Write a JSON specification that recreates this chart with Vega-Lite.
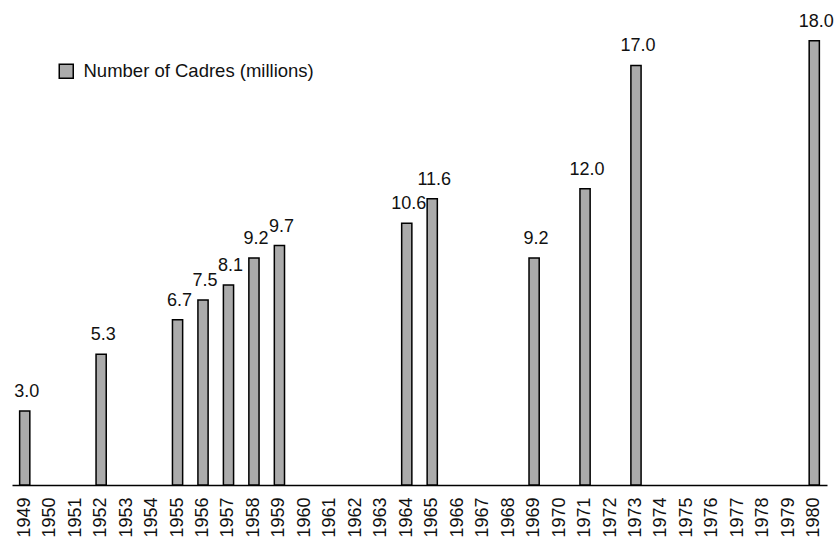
{
  "$schema": "https://vega.github.io/schema/vega-lite/v6.json",
  "autosize": {"type": "none"},
  "width": 815,
  "height": 485,
  "padding": {"left": 12, "top": 0, "right": 7, "bottom": 55},
  "background": "white",
  "config": {
    "view": {"stroke": null},
    "font": "Liberation Sans"
  },
  "data": {
    "values": [
      {"year": "1949", "value": 3.0, "series": "Number of Cadres (millions)"},
      {"year": "1952", "value": 5.3, "series": "Number of Cadres (millions)"},
      {"year": "1955", "value": 6.7, "series": "Number of Cadres (millions)"},
      {"year": "1956", "value": 7.5, "series": "Number of Cadres (millions)"},
      {"year": "1957", "value": 8.1, "series": "Number of Cadres (millions)"},
      {"year": "1958", "value": 9.2, "series": "Number of Cadres (millions)"},
      {"year": "1959", "value": 9.7, "series": "Number of Cadres (millions)"},
      {"year": "1964", "value": 10.6, "series": "Number of Cadres (millions)"},
      {"year": "1965", "value": 11.6, "series": "Number of Cadres (millions)"},
      {"year": "1969", "value": 9.2, "series": "Number of Cadres (millions)"},
      {"year": "1971", "value": 12.0, "series": "Number of Cadres (millions)"},
      {"year": "1973", "value": 17.0, "series": "Number of Cadres (millions)"},
      {"year": "1980", "value": 18.0, "series": "Number of Cadres (millions)"}
    ]
  },
  "encoding": {
    "x": {
      "field": "year",
      "type": "nominal",
      "sort": null,
      "scale": {
        "domain": ["1949","1950","1951","1952","1953","1954","1955","1956","1957","1958","1959","1960","1961","1962","1963","1964","1965","1966","1967","1968","1969","1970","1971","1972","1973","1974","1975","1976","1977","1978","1979","1980"],
        "paddingInner": 0.6,
        "paddingOuter": 0.3
      },
      "axis": {
        "title": null,
        "ticks": false,
        "labelAngle": -90,
        "labelFontSize": 18,
        "labelColor": "#111",
        "labelPadding": 12,
        "domainColor": "#000",
        "domainWidth": 1.5,
        "labelFont": "Liberation Sans"
      }
    },
    "y": {
      "field": "value",
      "type": "quantitative",
      "scale": {"domain": [0, 19.65], "nice": false, "zero": true},
      "axis": null
    }
  },
  "layer": [
    {
      "mark": {"type": "bar", "stroke": "#000", "strokeWidth": 1.5},
      "encoding": {
        "fill": {
          "field": "series",
          "type": "nominal",
          "scale": {"range": ["#ababab"]},
          "legend": {
            "title": null,
            "orient": "none",
            "legendX": 45,
            "legendY": 62,
            "symbolType": "square",
            "symbolSize": 196,
            "symbolStrokeColor": "#000",
            "symbolStrokeWidth": 1.5,
            "symbolFillColor": "#ababab",
            "labelFontSize": 18.5,
            "labelLimit": 400,
            "labelColor": "#111",
            "labelOffset": 8,
            "labelFont": "Liberation Sans"
          }
        }
      }
    },
    {
      "mark": {"type": "text", "baseline": "alphabetic", "dy": -14, "dx": 2, "fontSize": 18, "color": "#111", "font": "Liberation Sans"},
      "encoding": {
        "text": {"field": "value", "type": "quantitative", "format": ".1f"}
      }
    }
  ]
}
